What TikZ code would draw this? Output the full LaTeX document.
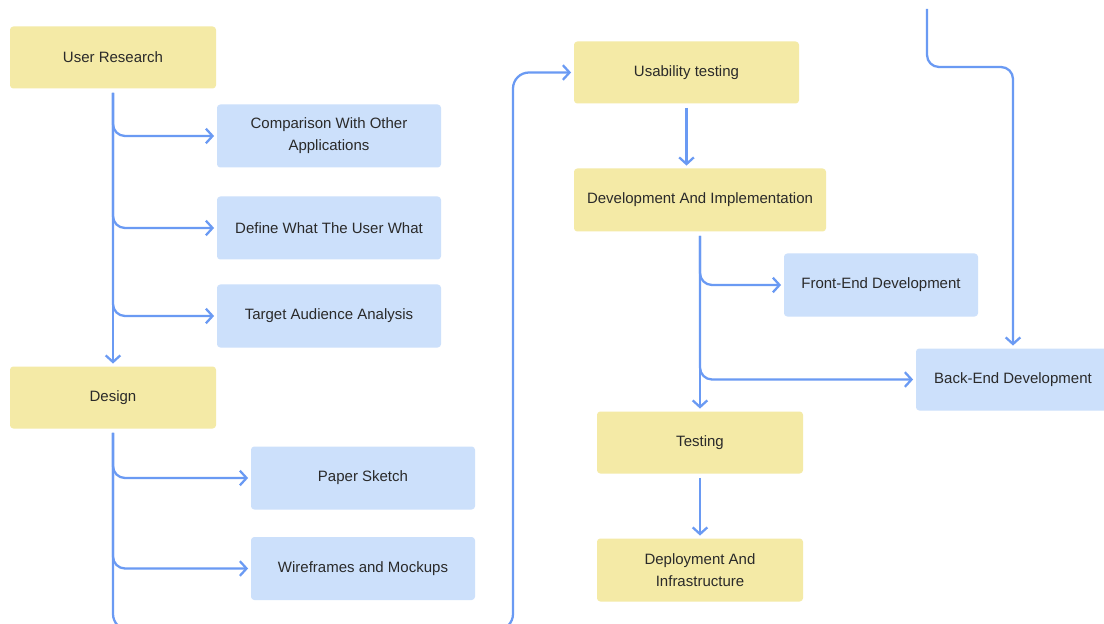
\documentclass[tikz,border=0pt]{standalone}
\usepackage{fontspec}
\setmainfont{Liberation Sans}
\usetikzlibrary{arrows.meta,calc}
\definecolor{ybox}{HTML}{F4EAA6}
\definecolor{bbox}{HTML}{CCE0FB}
\definecolor{lnk}{HTML}{6A9AF3}
\definecolor{txt}{HTML}{2A2A2A}
\tikzset{
  boxbase/.style={rounded corners=2.5pt, inner sep=0pt, align=center, text=txt,
    font=\fontsize{11.25pt}{16.5pt}\selectfont},
  yellowbox/.style={boxbase, fill=ybox},
  bluebox/.style={boxbase, fill=bbox},
  conn/.style={draw=lnk, line width=1.7pt, rounded corners=9pt,
    -{Straight Barb[length=5pt,width=11pt,line width=1.7pt]},
    shorten <=3pt, shorten >=2pt}
}
\begin{document}
\begin{tikzpicture}[x=0.75pt,y=-0.75pt]
\clip (0,0) rectangle (1104,624);
\fill[white] (0,0) rectangle (1104,624);
% left column
\node[yellowbox, minimum width=154.5pt, minimum height=46.5pt] (ur) at (113,57.5) {User Research};
\node[bluebox, minimum width=168pt, minimum height=47.25pt] (comp) at (329,136) {Comparison With Other\\Applications};
\node[bluebox, minimum width=168pt, minimum height=47.25pt] (def) at (329,228) {Define What The User What};
\node[bluebox, minimum width=168pt, minimum height=47.25pt] (taa) at (329,316) {Target Audience Analysis};
\node[yellowbox, minimum width=154.5pt, minimum height=46.5pt] (des) at (113,397.5) {Design};
\node[bluebox, minimum width=168pt, minimum height=47.25pt] (ps) at (363,478) {Paper Sketch};
\node[bluebox, minimum width=168pt, minimum height=47.25pt] (wf) at (363,568.5) {Wireframes and Mockups};
% middle column
\node[yellowbox, minimum width=168.75pt, minimum height=46.5pt] (ut) at (686.5,72.5) {Usability testing};
\node[yellowbox, minimum width=189pt, minimum height=47.25pt] (dev) at (700,200) {Development And Implementation};
\node[bluebox, minimum width=145.5pt, minimum height=47.25pt] (fe) at (881,285) {Front-End Development};
\node[bluebox, minimum width=145.5pt, minimum height=46.5pt] (be) at (1013,379.5) {Back-End Development};
\node[yellowbox, minimum width=154.5pt, minimum height=46.5pt] (tst) at (700,442.5) {Testing};
\node[yellowbox, minimum width=154.5pt, minimum height=47.25pt] (dep) at (700,570) {Deployment And\\Infrastructure};
% coordinates
\coordinate (loopb) at (513,630);
\coordinate (topin) at (927,9);
\coordinate (tr) at (1013,67);
% connectors: user research
\draw[conn] (ur.south) -- (des.north);
\draw[conn] (ur.south) |- (comp.west);
\draw[conn] (ur.south) |- (def.west);
\draw[conn] (ur.south) |- (taa.west);
% design
\draw[conn] (des.south) |- (ps.west);
\draw[conn] (des.south) |- (wf.west);
\draw[conn, rounded corners=12pt] (des.south) |- (loopb) |- (ut.west);
% middle
\draw[conn] (ut.south) -- (ut.south |- dev.north);
\draw[conn] (dev.south) -- (tst.north);
\draw[conn] (dev.south) |- (fe.west);
\draw[conn] (dev.south) |- (be.west);
\draw[conn] (tst.south) -- (dep.north);
\draw[conn, shorten <=0pt] (topin) |- (tr) -- (be.north);
\end{tikzpicture}
\end{document}
